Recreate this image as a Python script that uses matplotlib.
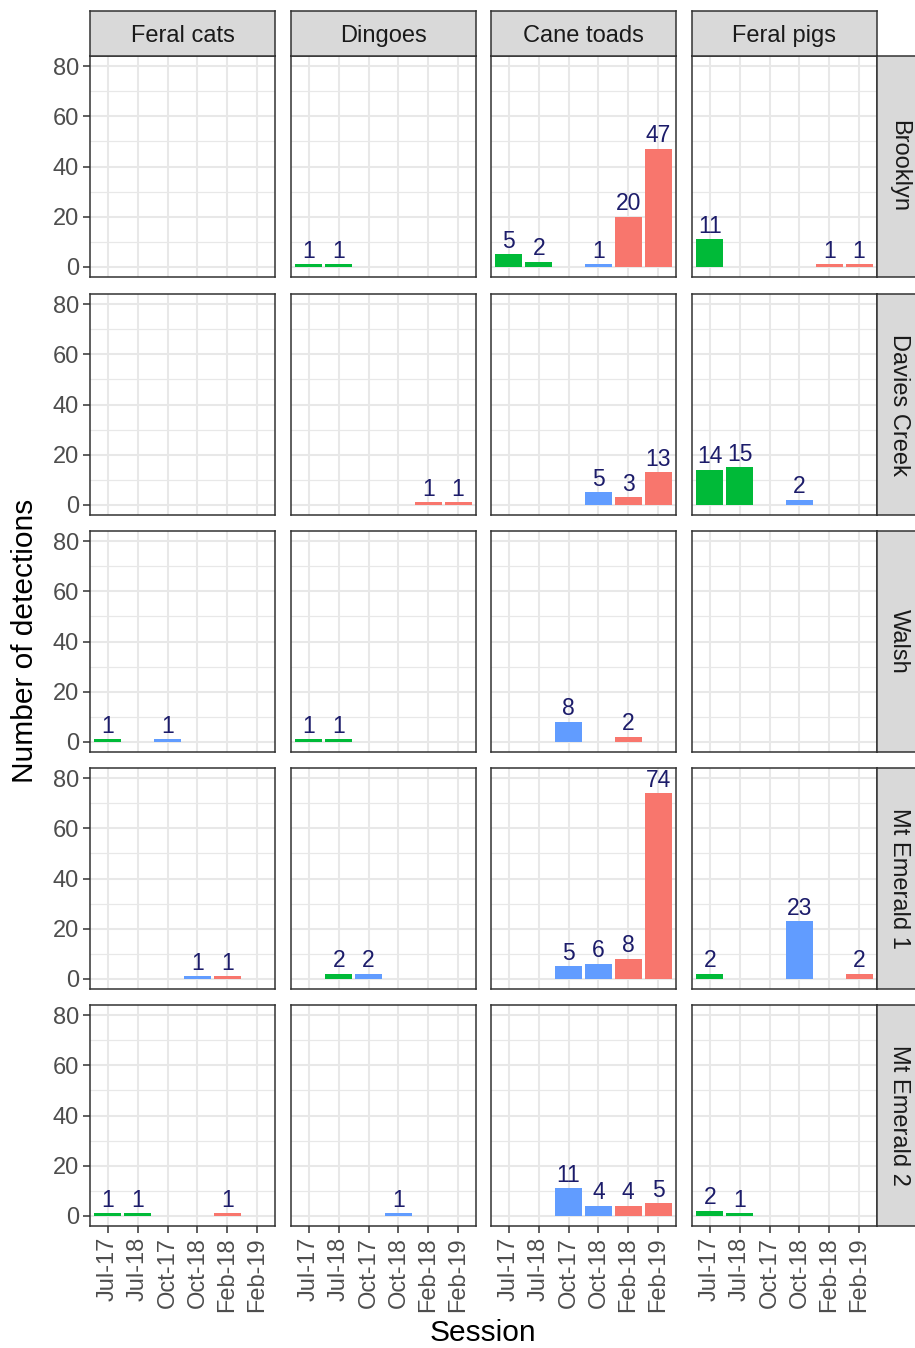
import numpy as np
import matplotlib
matplotlib.use("Agg")
import matplotlib.pyplot as plt
from matplotlib.ticker import MultipleLocator

plt.rcParams["font.family"] = ["Liberation Sans", "DejaVu Sans"]

# Survey sessions (x axis) and their season colours
sessions = ["Jul-17", "Jul-18", "Oct-17", "Oct-18", "Feb-18", "Feb-19"]
session_colors = ["#00BA38", "#00BA38", "#619CFF", "#619CFF", "#F8766D", "#F8766D"]

species = ["Feral cats", "Dingoes", "Cane toads", "Feral pigs"]
sites = ["Brooklyn", "Davies Creek", "Walsh", "Mt Emerald 1", "Mt Emerald 2"]

nan = np.nan
# Detections per species (rows) and session (columns) at each site
brooklyn = [
    [nan, nan, nan, nan, nan, nan],
    [1, 1, nan, nan, nan, nan],
    [5, 2, nan, 1, 20, 47],
    [11, nan, nan, nan, 1, 1],
]
davies_creek = [
    [nan, nan, nan, nan, nan, nan],
    [nan, nan, nan, nan, 1, 1],
    [nan, nan, nan, 5, 3, 13],
    [14, 15, nan, 2, nan, nan],
]
walsh = [
    [1, nan, 1, nan, nan, nan],
    [1, 1, nan, nan, nan, nan],
    [nan, nan, 8, nan, 2, nan],
    [nan, nan, nan, nan, nan, nan],
]
mt_emerald_1 = [
    [nan, nan, nan, 1, 1, nan],
    [nan, 2, 2, nan, nan, nan],
    [nan, nan, 5, 6, 8, 74],
    [2, nan, nan, 23, nan, 2],
]
mt_emerald_2 = [
    [1, 1, nan, nan, 1, nan],
    [nan, nan, nan, 1, nan, nan],
    [nan, nan, 11, 4, 4, 5],
    [2, 1, nan, nan, nan, nan],
]
site_counts = [brooklyn, davies_creek, walsh, mt_emerald_1, mt_emerald_2]

y_ticks = [0, 20, 40, 60, 80]

W, H = 915, 1348
fig = plt.figure(figsize=(W / 100, H / 100), dpi=100)

def box(x0, y0, w, h):
    return [x0 / W, 1 - (y0 + h) / H, w / W, h / H]

col_left = [90, 291, 491, 692]
col_w = 185
row_top = [56, 294, 531, 768, 1005]
row_h = 221

border = "#333333"
grid_c = "#E8E8E8"
label_c = "#1C1C6A"
tick_fs = 17
x = np.arange(len(sessions))

for r, site in enumerate(sites):
    for c, sp in enumerate(species):
        ax = fig.add_axes(box(col_left[c], row_top[r], col_w, row_h))
        vals = np.array(site_counts[r][c], dtype=float)
        ax.set_xlim(-0.6, len(sessions) - 0.4)
        ax.set_ylim(-4, 84)
        ax.set_axisbelow(True)
        ax.yaxis.set_major_locator(MultipleLocator(20))
        ax.yaxis.set_minor_locator(MultipleLocator(10))
        ax.set_xticks(x)
        ax.grid(which="major", color=grid_c, lw=1.5)
        ax.grid(which="minor", axis="y", color=grid_c, lw=0.9)
        for s in ax.spines.values():
            s.set_color(border)
            s.set_linewidth(1.1)
        mask = ~np.isnan(vals)
        ax.bar(x[mask], vals[mask], width=0.9,
               color=[session_colors[i] for i in x[mask]])
        for i in x[mask]:
            ax.text(i, vals[i] + 0.6, f"{int(vals[i])}", ha="center", va="bottom",
                    fontsize=16.5, color=label_c)
        ax.tick_params(which="minor", length=0)
        if c == 0:
            ax.set_yticks(y_ticks)
            ax.tick_params(axis="y", which="major", labelsize=tick_fs, labelcolor="#4D4D4D",
                           color=border, length=5, width=1.1, pad=3)
        else:
            ax.tick_params(axis="y", which="major", labelleft=False, length=0)
        if r == len(sites) - 1:
            ax.set_xticklabels(sessions)
            ax.tick_params(axis="x", labelsize=tick_fs, labelcolor="#4D4D4D",
                           color=border, length=5, width=1.1, pad=3, labelrotation=90)
        else:
            ax.tick_params(axis="x", labelbottom=False, length=0)

        # top strip with species name
        if r == 0:
            sax = fig.add_axes(box(col_left[c], 11, col_w, 45))
            sax.set_xticks([]); sax.set_yticks([])
            sax.set_facecolor("#D9D9D9")
            for s in sax.spines.values():
                s.set_color(border); s.set_linewidth(1.1)
            sax.text(0.5, 0.45, sp, ha="center", va="center", fontsize=17,
                     color="#1A1A1A", transform=sax.transAxes)

    # right strip with site name
    rax = fig.add_axes(box(877, row_top[r], 44, row_h))
    rax.set_xticks([]); rax.set_yticks([])
    rax.set_facecolor("#D9D9D9")
    for s in rax.spines.values():
        s.set_color(border); s.set_linewidth(1.1)
    rax.text(0.5, 0.5, site, ha="center", va="center", fontsize=17, rotation=270,
             color="#1A1A1A", transform=rax.transAxes)

fig.text(25 / W, 1 - 641 / H, "Number of detections", rotation=90,
         ha="center", va="center", fontsize=21.5, color="#000000")
fig.text(483 / W, 1 - 1333 / H, "Session", ha="center", va="center",
         fontsize=21.5, color="#000000")

fig.savefig("out.png", dpi=100, facecolor="white")
